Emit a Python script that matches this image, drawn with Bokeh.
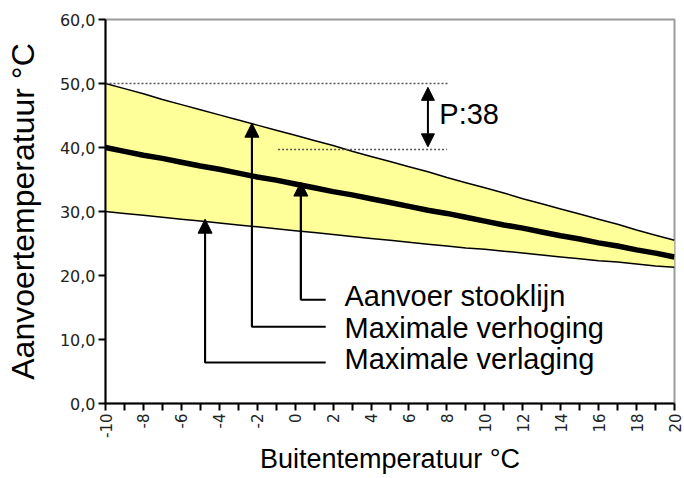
import math
from bokeh.plotting import figure
from bokeh.models import Range1d, FixedTicker, Arrow, NormalHead, ColumnDataSource
from bokeh.core.properties import value
from bokeh.embed import file_html
from bokeh.resources import INLINE

# Data
buiten = [-10, -9, -8, -7, -6, -5, -4, -3, -2, -1, 0, 1, 2, 3, 4, 5, 6, 7, 8, 9, 10,
          11, 12, 13, 14, 15, 16, 17, 18, 19, 20]
max_verhoging = [50.0, 49.2, 48.4, 47.5, 46.7, 45.9, 45.1, 44.3, 43.5, 42.7, 41.9,
                 41.1, 40.3, 39.4, 38.6, 37.8, 37.0, 36.2, 35.3, 34.5, 33.7,
                 32.9, 32.0, 31.2, 30.4, 29.6, 28.8, 28.0, 27.1, 26.3, 25.5]
stooklijn = [40.0, 39.4, 38.8, 38.3, 37.7, 37.1, 36.6, 36.0, 35.4, 34.9, 34.3,
             33.7, 33.1, 32.6, 32.0, 31.4, 30.8, 30.2, 29.7, 29.1, 28.5,
             27.9, 27.4, 26.8, 26.2, 25.7, 25.1, 24.6, 24.0, 23.5, 22.9]
max_verlaging = [30.0, 29.7, 29.4, 29.1, 28.8, 28.5, 28.2, 27.9, 27.6, 27.3, 27.0,
                 26.7, 26.4, 26.1, 25.8, 25.5, 25.2, 24.9, 24.6, 24.3, 24.1,
                 23.8, 23.5, 23.2, 22.9, 22.6, 22.3, 22.1, 21.8, 21.5, 21.3]
y_ticks = [0, 10, 20, 30, 40, 50, 60]
y_tick_labels = ["0,0", "10,0", "20,0", "30,0", "40,0", "50,0", "60,0"]
x_ticks = list(range(-10, 21))
x_tick_labels = [str(t) if t % 2 == 0 else "" for t in x_ticks]
labels = ["Aanvoer stooklijn", "Maximale verhoging", "Maximale verlaging"]
p_label = "P:38"
p_levels = [50.0, 39.7]

FONT = "Liberation Sans"

p = figure(width=684, height=476, output_backend="svg", toolbar_location=None,
           x_range=Range1d(-10, 20), y_range=Range1d(0, 60),
           min_border_left=105, min_border_right=10, min_border_top=19,
           min_border_bottom=72)
p.xgrid.visible = False
p.ygrid.visible = False
p.outline_line_color = "#9a9a9a"
p.outline_line_width = 2
p.background_fill_color = "white"

src = ColumnDataSource(dict(x=buiten, hi=max_verhoging, mid=stooklijn, lo=max_verlaging))
p.varea(x="x", y1="lo", y2="hi", source=src, fill_color="#FFFF99")
p.line(x="x", y="hi", source=src, line_color="black", line_width=1.5)
p.line(x="x", y="lo", source=src, line_color="black", line_width=1.5)
p.line(x="x", y="mid", source=src, line_color="black", line_width=5.5)

# dotted reference lines for P
p.line(x=[-10, 8.1], y=[p_levels[0], p_levels[0]], line_color="#555555",
       line_width=1.5, line_dash="2 2")
p.line(x=[-0.9, 8.0], y=[p_levels[1], p_levels[1]], line_color="#555555",
       line_width=1.5, line_dash="2 2")
p.add_layout(Arrow(start=NormalHead(size=13, fill_color="black", line_color="black"),
                   end=NormalHead(size=13, fill_color="black", line_color="black"),
                   x_start=7.0, y_start=p_levels[1] + 0.4, x_end=7.0, y_end=p_levels[0] - 0.6,
                   line_width=2, line_color="black"))
p.text(x=[7.6], y=[45.3], text=[p_label], text_font=value(FONT), text_font_size="29px",
       text_baseline="middle", text_align="left", text_color="black")

# annotation callouts
arrow_x = [0.30, -2.28, -4.75]
arrow_tip = [34.6, 43.8, 28.8]
corner_y = [16.2, 12.0, 6.4]
text_y = [16.8, 11.8, 6.9]
for ax, tip, cy in zip(arrow_x, arrow_tip, corner_y):
    p.line(x=[ax, ax, 1.61], y=[tip - 2, cy, cy], line_color="black", line_width=2)
    p.add_layout(Arrow(end=NormalHead(size=14, fill_color="black", line_color="black"),
                       x_start=ax, y_start=cy, x_end=ax, y_end=tip,
                       line_width=2, line_color="black"))
p.text(x=[2.6] * 3, y=text_y, text=labels, text_font=value(FONT), text_font_size="29px",
       text_baseline="middle", text_align="left", text_color="black")

# axes
for ax in (p.xaxis[0], p.yaxis[0]):
    ax.axis_line_color = "black"
    ax.axis_line_width = 2
    ax.major_tick_line_color = "black"
    ax.major_tick_line_width = 2
    ax.major_tick_out = 7
    ax.major_tick_in = 0
    ax.minor_tick_line_color = None
    ax.major_label_text_font = "DejaVu Sans"
    ax.major_label_text_color = "#222222"
    ax.major_label_standoff = 3
    ax.axis_label_text_font = FONT
    ax.axis_label_text_font_style = "normal"
    ax.axis_label_text_color = "black"

p.yaxis.ticker = FixedTicker(ticks=y_ticks)
p.yaxis.major_label_overrides = {t: l for t, l in zip(y_ticks, y_tick_labels)}
p.yaxis.major_label_text_font_size = "16px"
p.yaxis.axis_label = "Aanvoertemperatuur °C"
p.yaxis.axis_label_text_font_size = "32px"
p.yaxis.axis_label_standoff = 16

p.xaxis.ticker = FixedTicker(ticks=x_ticks)
p.xaxis.major_label_overrides = {t: l for t, l in zip(x_ticks, x_tick_labels)}
p.xaxis.major_label_text_font_size = "15px"
p.xaxis.major_label_orientation = math.pi / 2
p.xaxis.axis_label = "Buitentemperatuur °C"
p.xaxis.axis_label_text_font_size = "27px"
p.xaxis.axis_label_standoff = 3

open("out.html", "w").write(file_html(p, INLINE))
